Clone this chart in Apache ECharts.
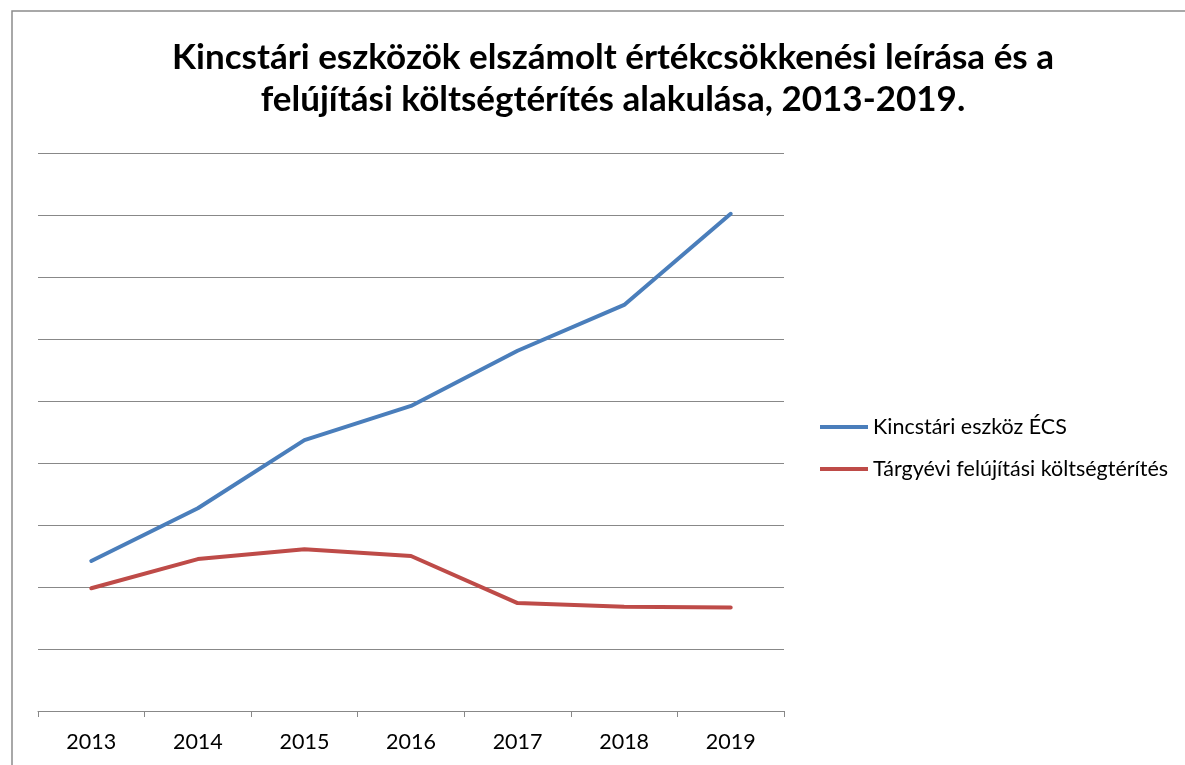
<!DOCTYPE html>
<html>
<head>
<meta charset="utf-8">
<script src="https://cdn.jsdelivr.net/npm/echarts@6/dist/echarts.min.js"></script>
<style>
  html, body { margin: 0; padding: 0; background: #fff; }
  #chart { width: 1185px; height: 765px; }
</style>
</head>
<body>
<div id="chart"></div>
<script>
const years = ['2013', '2014', '2015', '2016', '2017', '2018', '2019']
// values (no y labels shown, unit = one gridline)
const ecsValues = [2.42, 3.27, 4.37, 4.92, 5.81, 6.55, 8.02]
const felujitasValues = [1.98, 2.45, 2.61, 2.5, 1.74, 1.68, 1.67]
const seriesNames = ['Kincstári eszköz ÉCS', 'Tárgyévi felújítási költségtérítés']

const chart = echarts.init(document.getElementById('chart'))
const font = 'Lato, "Open Sans", sans-serif'

const option = {
  animation: false,
  title: {
    text: 'Kincstári eszközök elszámolt értékcsökkenési leírása és a\nfelújítási költségtérítés alakulása, 2013-2019.',
    left: 608,
    top: 32,
    textAlign: 'center',
    textStyle: {
      fontFamily: font,
      fontSize: 35,
      fontWeight: 'bold',
      color: '#000',
      lineHeight: 42
    }
  },
  graphic: [
    {
      type: 'rect',
      shape: { x: 12, y: 11, width: 1200, height: 800 },
      style: { fill: 'none', stroke: '#8c8c8c', lineWidth: 1.5 },
      silent: true
    }
  ],
  legend: {
    orient: 'vertical',
    left: 815,
    top: 411,
    itemWidth: 48,
    itemHeight: 4,
    itemGap: 20,
    icon: 'rect',
    textStyle: { fontFamily: font, fontSize: 21.5, color: '#000' },
    data: seriesNames
  },
  grid: { left: 38, right: 401, top: 153, bottom: 54 },
  xAxis: {
    type: 'category',
    data: years,
    boundaryGap: true,
    axisLine: { lineStyle: { color: '#888', width: 1 } },
    axisTick: { show: true, length: 6, lineStyle: { color: '#888' } },
    axisLabel: { fontFamily: font, fontSize: 21.5, color: '#000', margin: 20 }
  },
  yAxis: {
    type: 'value',
    min: 0,
    max: 9,
    interval: 1,
    axisLine: { show: false },
    axisTick: { show: false },
    axisLabel: { show: false },
    splitLine: { lineStyle: { color: '#888', width: 1 } }
  },
  series: [
    {
      name: seriesNames[0],
      type: 'line',
      data: ecsValues,
      symbol: 'none',
      lineStyle: { color: '#4a7ebb', width: 4, cap: 'round' },
      itemStyle: { color: '#4a7ebb' }
    },
    {
      name: seriesNames[1],
      type: 'line',
      data: felujitasValues,
      symbol: 'none',
      lineStyle: { color: '#be4b48', width: 4, cap: 'round' },
      itemStyle: { color: '#be4b48' }
    }
  ]
}
chart.setOption(option)
</script>
</body>
</html>
